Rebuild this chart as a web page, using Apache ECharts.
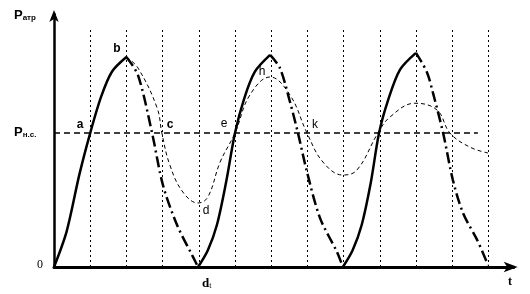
<!DOCTYPE html>
<html><head><meta charset="utf-8">
<script src="https://cdn.jsdelivr.net/npm/echarts@6/dist/echarts.min.js"></script>
<style>html,body{margin:0;padding:0;background:#fff}#c{width:530px;height:294px}</style>
</head><body><div id="c"></div>
<script>
// time in cycle units (dotted grid lines at 1..12), pressure in % of peak
const gridTimes = [1,2,3,4,5,6,7,8,9,10,11,12];
const pncLevel = 63.8;
const pncEnd = 11.71;
const gridTop = 114;

const rise1 = [[0,0],[0.35,17],[0.7,44],[1,63.8],[1.3,81],[1.6,93],[2,100]];
const rise2 = [[3.98,0],[4.25,8],[4.5,20],[4.75,40],[5,63.8],[5.25,80],[5.55,93],[5.97,101]];
const rise3 = [[7.98,0],[8.25,8],[8.5,20],[8.75,40],[8.98,63.8],[9.23,79.5],[9.56,94],[10,102]];

const fall1 = [[2,100],[2.32,91.4],[2.71,63.8],[3.01,39],[3.4,20],[3.84,4.8],[3.98,0]];
const fall2 = [[5.97,101],[6.24,94.8],[6.52,78.6],[6.74,63.8],[6.99,45.2],[7.35,23.3],[7.82,7.1],[7.98,0]];
const fall3 = [[10,102],[10.3,92.9],[10.47,82.9],[10.75,63.8],[11.02,41.4],[11.3,25.7],[11.69,12.9],[11.99,1]];

const damped = [[2,100],[2.32,94.8],[2.85,75.7],[2.98,63.8],[3.2,48.6],[3.56,35.7],[3.98,30.5],[4.25,33.3],
  [4.59,50],[5,63.8],[5.41,81.9],[5.97,90.5],[6.52,81.9],[6.99,63.8],[7.43,50],[7.98,43.8],[8.37,46.2],
  [8.95,63.8],[9.28,71.4],[9.97,78],[10.58,74.8],[10.94,63.8],[11.49,57.1],[11.99,54.3]];

const chart = echarts.init(document.getElementById('c'), null, {renderer:'canvas'});
const solid = {type:'solid', width:2.5, color:'#000'};
const dashdot = {type:[11,4,2,4], width:2.5, color:'#000'};
function line(data, ls, smooth){
  return {type:'line', data:data, showSymbol:false, smooth:smooth, lineStyle:ls, silent:true, z:3};
}
const txt = (x,y,text,font,extra) => Object.assign({type:'text', x:x, y:y, style:{text:text, font:font, fill:'#000', textAlign:'center', textVerticalAlign:'middle'}}, extra||{});

chart.setOption({
  animation:false,
  backgroundColor:'#fff',
  grid:{left:54, right:16.3, top:14, bottom:27},
  xAxis:{type:'value', min:0, max:12.7, axisLabel:{show:false}, axisTick:{show:false}, splitLine:{show:false},
    axisLine:{lineStyle:{color:'#000', width:3}, symbol:['none','arrow'], symbolSize:[8,14], symbolOffset:[0,4]}},
  yAxis:{type:'value', min:0, max:120.5, axisLabel:{show:false}, axisTick:{show:false}, splitLine:{show:false},
    axisLine:{lineStyle:{color:'#000', width:2.5}, symbol:['none','arrow'], symbolSize:[7,12], symbolOffset:[0,4]}},
  series:[
    {type:'line', data:[], silent:true,
      markLine:{symbol:'none', silent:true, label:{show:false}, animation:false,
        lineStyle:{type:[2,3], color:'#000', width:1},
        data:gridTimes.map(t=>[{coord:[t,0]},{coord:[t,gridTop]}])}},
    {type:'line', data:[], silent:true,
      markLine:{symbol:'none', silent:true, label:{show:false}, animation:false,
        lineStyle:{type:[6,4], color:'#000', width:1.6},
        data:[[{coord:[0,pncLevel]},{coord:[pncEnd,pncLevel]}]]}},
    line(rise1, solid, 0.3), line(rise2, solid, 0.3), line(rise3, solid, 0.3),
    line(fall1, dashdot, 0.3), line(fall2, dashdot, 0.3), line(fall3, dashdot, 0.3),
    line(damped, {type:[4,3], width:1, color:'#000'}, 0.4)
  ],
  graphic:[
    {type:'text', x:14, y:9, style:{text:'{p|P}{s|атр}', rich:{p:{font:'bold 13px "Liberation Sans"', fill:'#000'}, s:{font:'bold 8px "Liberation Sans"', fill:'#000', padding:[5,0,0,0]}}}},
    {type:'text', x:14, y:126, style:{text:'{p|P}{s|н.с.}', rich:{p:{font:'bold 13px "Liberation Sans"', fill:'#000'}, s:{font:'bold 8px "Liberation Sans"', fill:'#000', padding:[5,0,0,0]}}}},
    txt(40,265,'0','12px "Liberation Serif"'),
    txt(80,125,'a','bold 12px "Liberation Sans"'),
    txt(117,49,'b','bold 12px "Liberation Sans"'),
    txt(170,125,'c','bold 12px "Liberation Sans"'),
    txt(206,211,'d','12px "Liberation Sans"'),
    txt(224,124,'e','12px "Liberation Sans"'),
    txt(262,72,'h','12px "Liberation Sans"'),
    txt(315,125,'k','12px "Liberation Sans"'),
    {type:'text', x:202, y:277, style:{text:'{p|d}{s|t}', rich:{p:{font:'bold 13px "Liberation Serif"', fill:'#000'}, s:{font:'8px "Liberation Serif"', fill:'#000', padding:[5,0,0,0]}}}},
    txt(510,282,'t','bold 12px "Liberation Serif"')
  ]
});
</script></body></html>
